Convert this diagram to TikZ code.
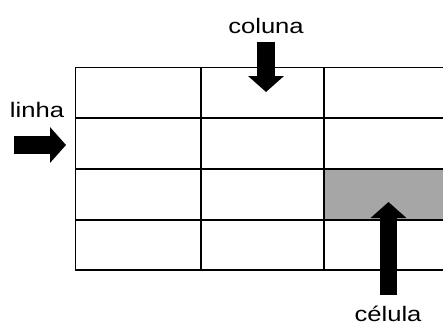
\documentclass[tikz,border=0pt]{standalone}
\usepackage{fontspec}
\newfontfamily\rotfont[FakeStretch=1.22]{Liberation Sans}
\usetikzlibrary{arrows.meta}
\definecolor{cinza}{HTML}{A6A6A6}

\begin{document}
\begin{tikzpicture}[x=1bp,y=-1bp]
    \tikzstyle{rotulo}=[font=\rotfont\fontsize{21bp}{25bp}\selectfont,inner sep=0pt];
    \tikzstyle{seta}=[line width=17.5bp,-{Triangle[width=35bp,length=16bp]}];
    \tikzstyle{grade}=[line width=1.4bp];
    \useasboundingbox (0,0) rectangle (443,326);

    % celula marcada
    \fill[cinza] (324,169) rectangle (443,220);

    % grade (aberta a direita)
    \draw[grade] (443,67.5) -- (75.5,67.5) -- (75.5,270) -- (443,270);
    \draw[grade] (75.5,118) -- (443,118) (75.5,169) -- (443,169)
      (75.5,220) -- (443,220);
    \draw[grade] (201,67.5) -- (201,270) (324,67.5) -- (324,270);

    \node (col) [rotulo,anchor=base] at (266,33) {coluna};
    \node (lin) [rotulo,anchor=base] at (37,117) {linha};
    \node (cel) [rotulo,anchor=base] at (388,321) {célula};

    \coordinate (col0) at (266,42); \coordinate (col1) at (266,92);
    \coordinate (lin0) at (14,145); \coordinate (lin1) at (66,145);
    \coordinate (cel0) at (388.5,295); \coordinate (cel1) at (388.5,202);

    \draw[seta] (col0) -- (col1);
    \draw[seta] (lin0) -- (lin1);
    \draw[seta] (cel0) -- (cel1);
  \end{tikzpicture}
\end{document}
